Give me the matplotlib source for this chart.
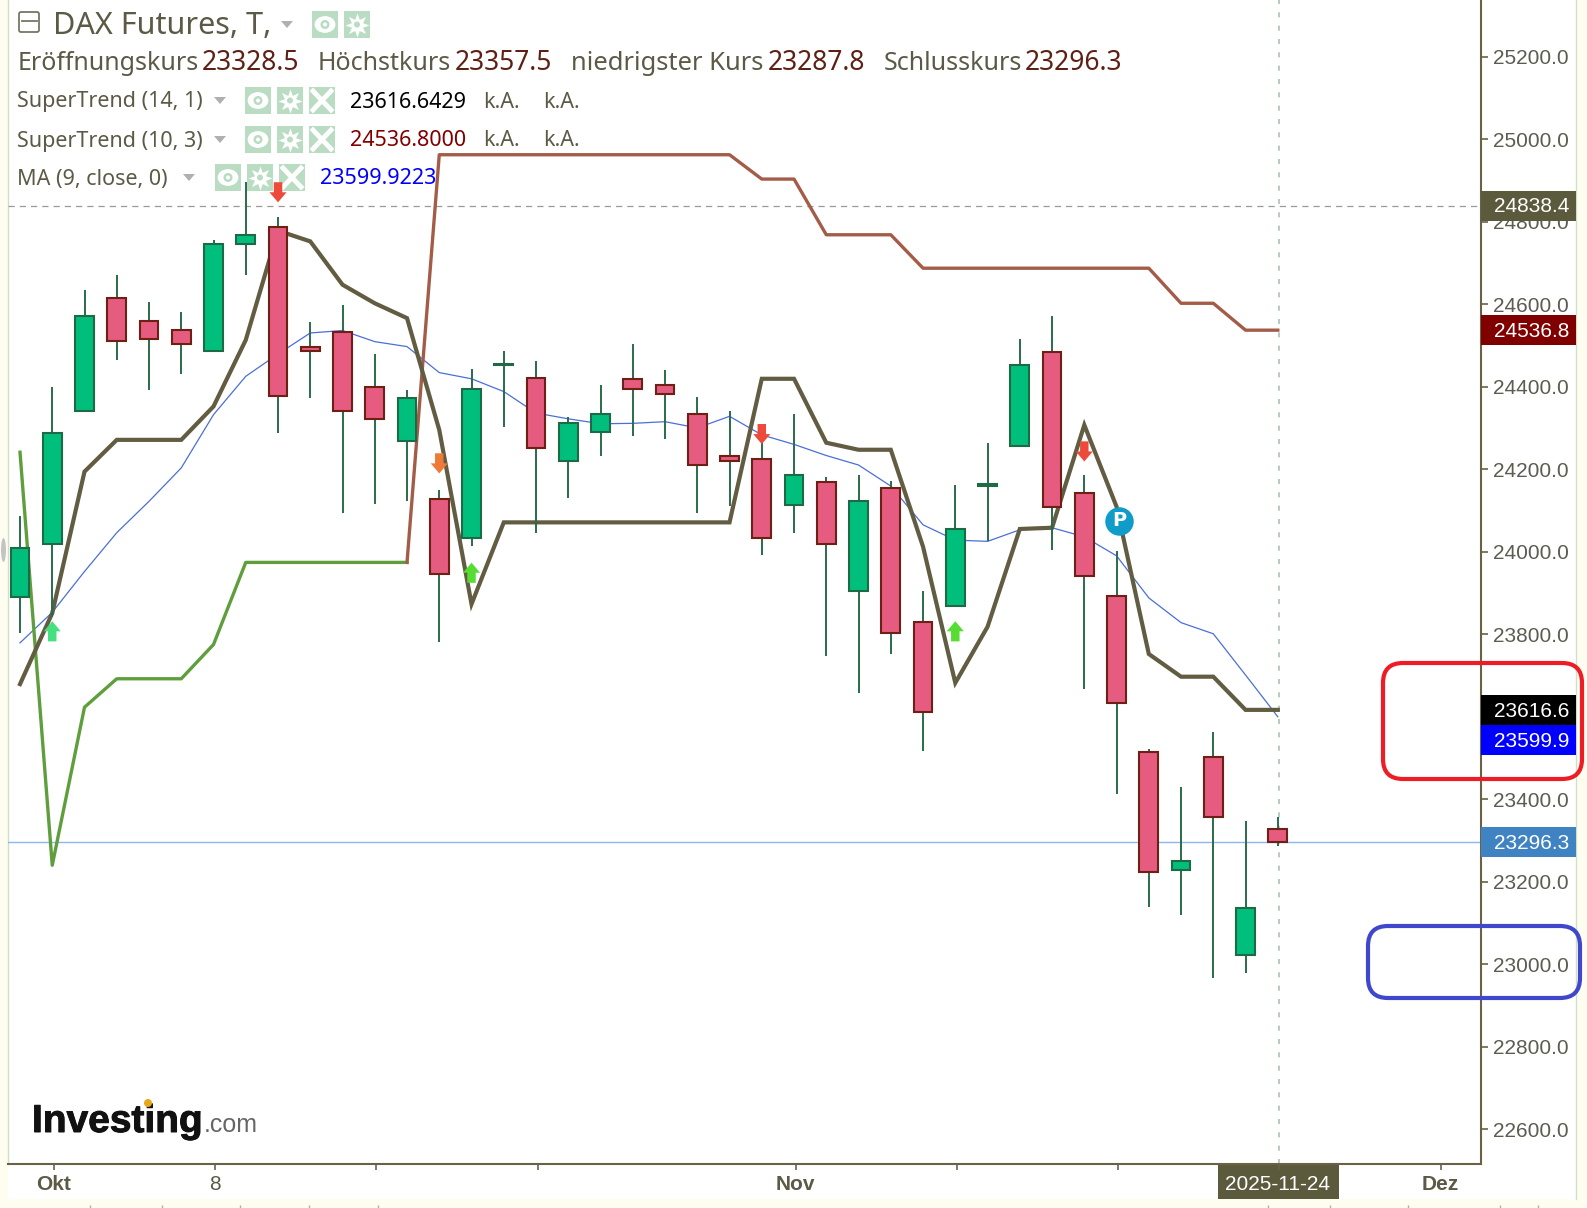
import matplotlib
matplotlib.use('Agg')
import numpy as np
import matplotlib.pyplot as plt
import matplotlib.patheffects as pe
from matplotlib.patches import Rectangle, FancyBboxPatch, Ellipse, Circle
from matplotlib.path import Path
from matplotlib.transforms import blended_transform_factory

# Candles, one value per trading day
opens = [23890, 24018, 24341, 24614, 24560, 24538, 24486, 24746, 24788, 24496,
         24533, 24400, 24268, 24128, 24032, 24452, 24420, 24219, 24290, 24418,
         24403, 24334, 24231, 24224, 24113, 24170, 23905, 24155, 23829, 23868,
         24158, 24256, 24484, 24143, 23893, 23515, 23228, 23503, 23022, 23328.5]
closes = [24010, 24288, 24570, 24511, 24516, 24503, 24746, 24768, 24378, 24486,
          24341, 24322, 24373, 23947, 24395, 24454, 24251, 24312, 24334, 24395,
          24383, 24209, 24219, 24032, 24187, 24018, 24123, 23804, 23611, 24055,
          24165, 24452, 24109, 23942, 23633, 23223, 23250, 23356, 23137, 23296.3]
highs = [24086, 24398, 24633, 24670, 24606, 24582, 24756, 24896, 24810, 24557,
         24597, 24479, 24393, 24150, 24442, 24486, 24462, 24327, 24405, 24503,
         24440, 24376, 24341, 24307, 24334, 24180, 24185, 24172, 23905, 24162,
         24263, 24516, 24572, 24185, 24001, 23522, 23429, 23562, 23348, 23357.5]
lows = [23804, 23841, 24341, 24464, 24391, 24430, 24486, 24670, 24288, 24373,
        24094, 24116, 24123, 23780, 24013, 24302, 24045, 24131, 24231, 24280,
        24273, 24094, 24111, 23991, 24045, 23748, 23657, 23753, 23517, 23866,
        24025, 24256, 24003, 23667, 23412, 23140, 23120, 22966, 22980, 23287.8]

# SuperTrend (14, 1)
st_14 = [23679, 23851, 24194, 24271, 24271, 24271, 24352, 24513, 24778, 24752,
         24647, 24602, 24566, 24295, 23873, 24071, 24071, 24071, 24071, 24071,
         24071, 24071, 24071, 24419, 24419, 24264, 24247, 24247, 24012, 23682,
         23818, 24055, 24058, 24307, 24109, 23752, 23697, 23697, 23616.6, 23616.6]
# SuperTrend (10, 3): support up to the flip, resistance after it
st_10 = [24241, 23240, 23623, 23692, 23692, 23692, 23775, 23974, 23974, 23974,
         23974, 23974, 23974, 24962, 24962, 24962, 24962, 24962, 24962, 24962,
         24962, 24962, 24962, 24903, 24903, 24768, 24768, 24768, 24687, 24687,
         24687, 24687, 24687, 24687, 24687, 24687, 24602, 24602, 24536.8, 24536.8]
st_10_flip = 12
# MA (9, close, 0)
ma_9 = [23779, 23853, 23952, 24046, 24122, 24203, 24332, 24425, 24479, 24530,
        24536, 24509, 24497, 24434, 24419, 24388, 24336, 24322, 24310, 24311,
        24315, 24300, 24328, 24283, 24260, 24233, 24210, 24159, 24065, 24028,
        24025, 24053, 24058, 24036, 23990, 23888, 23828, 23801, 23701, 23599.9]

sell_days = [8, 13, 23, 33]
sell_vals = [24871, 24214, 24285, 24243]
buy_days = [1, 14, 29]
buy_vals = [23807, 23949, 23807]
p_day = 34.08
p_val = 24075

y_ticks = list(range(22600, 25400, 200))
y_hidden = [23600]
x_ticks = [1, 6, 11, 16, 24, 29, 34, 39, 44]
x_labels = ['Okt', '8', '', '', 'Nov', '', '', '', 'Dez']

price_tags = [(24838.4, '#5c5a3c', 0), (24536.8, '#800000', 0), (23616.6, '#000000', 0),
              (23599.9, '#0000ff', -56), (23296.3, '#3f83c2', 0)]

OLIVE = '#5c5a46'
W, H = 1587, 1208

fig = plt.figure(figsize=(W / 100, H / 100), dpi=100, facecolor='#fffdf0')

# white panel behind plot and price scale
back = fig.add_axes([0, 0, 1, 1])
back.set_xlim(0, W)
back.set_ylim(H, 0)
back.axis('off')
back.add_patch(Rectangle((8, 0), 1568, 1199, fc='white', ec='none'))
back.plot([1576, 1576], [0, 1199], color='#cfe0c8', lw=1)
back.plot([8, 8], [0, 1164], color='#cfe0c8', lw=1)
back.add_patch(Ellipse((3.5, 550), 5, 24, fc='#c4c4c4', ec='none'))
back.vlines([90, 162, 240, 309, 378, 1268, 1330, 1408, 1500, 1538], 1205, 1208, color='#b0b0a0', lw=1)

# legend text, icons and logo sit under the chart marks
top = fig.add_axes([0, 0, 1, 1], facecolor='none')
top.set_xlim(0, W)
top.set_ylim(H, 0)
top.axis('off')

ax = fig.add_axes([8 / W, 1 - 1164 / H, (1481 - 8) / W, 1164 / H], facecolor='none')
ax.set_xlim(-0.372, 45.30)
ax.set_ylim(22516, 25337)
ax.spines['top'].set_visible(False)
ax.spines['left'].set_visible(False)
ax.spines['right'].set_color('#6b6245')
ax.spines['bottom'].set_color('#6b6245')
ax.spines['right'].set_linewidth(1.5)
ax.spines['bottom'].set_linewidth(1.5)
ax.yaxis.tick_right()
ax.set_yticks(y_ticks)
ax.set_yticklabels(['' if v in y_hidden else '%.1f' % v for v in y_ticks], fontfamily='Liberation Sans',
                   fontsize=15, color='#5c5c50')
# the time scale sits a hair to the right of the candle centres
ax.set_xticks([t + 0.05 for t in x_ticks])
ax.set_xticklabels(x_labels, fontfamily='Liberation Sans', fontsize=15, fontweight='bold', color=OLIVE)
ax.get_xticklabels()[1].set_fontweight('normal')
ax.tick_params(axis='y', length=5, width=1.2, color='#6b6245', pad=4)
ax.tick_params(axis='x', length=4, width=1.2, color='#6b6245', pad=4)
ax.xaxis.get_major_ticks()[7].tick1line.set_color('#dddddd')

# reference lines
ax.axhline(24838.4, color='#9a9a9a', lw=0.9, ls=(0, (5, 4)), zorder=1)
ax.axhline(23296.3, color='#8ab8ee', lw=1, zorder=1)
ax.axvline(39.05, color='#a8c4ac', lw=1.2, ls=(0, (3, 5)), zorder=1)

# indicators go behind the candles
days = np.arange(len(opens))
ax.plot(days, ma_9, color='#4a6fd8', lw=0.9, zorder=2)
ax.plot(days[:st_10_flip + 1], st_10[:st_10_flip + 1], color='#5f9e3c', lw=2.4, zorder=2)
ax.plot(days[st_10_flip:], st_10[st_10_flip:], color='#a35c48', lw=2.4, zorder=2)
ax.plot(days, st_14, color='#625c42', lw=3, zorder=2.1, solid_joinstyle='miter')

# candles
ax.vlines(days, lows, highs, color='#2a6b4a', lw=1.4, zorder=3)
for i in days:
    up = closes[i] >= opens[i]
    body = abs(closes[i] - opens[i])
    ax.bar(i, body, width=0.58, bottom=min(opens[i], closes[i]),
           color='#00bf7d' if up else '#e65c80',
           edgecolor='#1e6a46' if up else '#6e2014', linewidth=1.5, zorder=4)

# signal arrows
down = Path([(-0.42, 1), (0.42, 1), (0.42, 0), (0.85, 0), (0, -1), (-0.85, 0), (-0.42, 0), (-0.42, 1)])
up_arrow = Path([(-0.42, -1), (0.42, -1), (0.42, 0), (0.85, 0), (0, 1), (-0.85, 0), (-0.42, 0), (-0.42, -1)])
ax.scatter(sell_days, sell_vals, marker=down, s=210, c=['#ee4a3c', '#ee7a38', '#ee4a3c', '#ee4a3c'], linewidths=0, zorder=6)
ax.scatter(buy_days, buy_vals, marker=up_arrow, s=210, c=['#46e080', '#55dd33', '#55dd33'], linewidths=0, zorder=6)
ax.scatter([p_day], [p_val], s=420, c='#0f9cc8', linewidths=0, zorder=7)
ax.text(p_day, p_val, 'P', color='white', fontsize=14, fontweight='bold', ha='center', va='center',
        fontfamily='DejaVu Sans', zorder=8)

# price tags on the scale
tr = blended_transform_factory(ax.transAxes, ax.transData)
for val, col, off in price_tags:
    ax.add_patch(Rectangle((1.0, val + off - 36), 95 / 1473, 72, transform=tr, fc=col, ec='none',
                           clip_on=False, zorder=10))
    ax.text(1 + 88 / 1473, val + off - 3, '%.1f' % val, transform=tr, color='white', ha='right', va='center',
            fontfamily='Liberation Sans', fontsize=15, clip_on=False, zorder=11)


def label(x, y, s, color=OLIVE, size=15.5):
    top.text(x, y, s, color=color, fontsize=size, va='center', ha='left', fontfamily='Noto Sans')


def caret(x, y):
    top.fill([x - 6, x + 6, x], [y - 3, y - 3, y + 4], color='#b0b0b0', lw=0)


def icon_box(x, y, w, h):
    top.add_patch(Rectangle((x, y), w, h, fc='#b9dcc2', ec='none'))


def eye(x, y, w=26, h=27):
    icon_box(x, y, w, h)
    top.add_patch(Ellipse((x + w / 2, y + h / 2), w * 0.8, h * 0.62, fc='white', ec='none'))
    top.add_patch(Circle((x + w / 2, y + h / 2), 4.5, fc='#b9dcc2', ec='none'))
    top.add_patch(Circle((x + w / 2, y + h / 2), 2, fc='white', ec='none'))


def gear(x, y, w=26, h=27):
    icon_box(x, y, w, h)
    top.scatter([x + w / 2], [y + h / 2], marker=(8, 1, 0), s=300, c='white', linewidths=0)
    top.add_patch(Circle((x + w / 2, y + h / 2), 3, fc='#b9dcc2', ec='none'))


def cross(x, y, w=26, h=27):
    icon_box(x, y, w, h)
    top.plot([x + 4, x + w - 4], [y + 4, y + h - 4], color='white', lw=3.5)
    top.plot([x + 4, x + w - 4], [y + h - 4, y + 4], color='white', lw=3.5)


# collapse box and title
top.add_patch(FancyBboxPatch((19, 12), 20, 20, boxstyle='round,pad=0,rounding_size=2', fc='none', ec='#777766', lw=1.3))
top.plot([22, 37], [21, 21], color='#777766', lw=1.3)
label(53, 26, 'DAX Futures, T,', size=22)
caret(287, 24)
eye(312, 11)
gear(344, 11)

# OHLC row
DARK = '#5e2014'
for x, s, c, fs in [(18, 'Eröffnungskurs', OLIVE, 18), (202, '23328.5', DARK, 19), (318, 'Höchstkurs', OLIVE, 18),
                    (455, '23357.5', DARK, 19), (571, 'niedrigster Kurs', OLIVE, 18.4), (768, '23287.8', DARK, 19),
                    (884, 'Schlusskurs', OLIVE, 18), (1025, '23296.3', DARK, 19)]:
    label(x, 63, s, c, fs)

# indicator rows
for y, s, val, col, cx, bx in [(100, 'SuperTrend (14, 1)', '23616.6429', '#000000', 220, 245),
                               (139, 'SuperTrend (10, 3)', '24536.8000', '#800000', 220, 245),
                               (177, 'MA (9, close, 0)', '23599.9223', '#0000ff', 189, 215)]:
    label(17, y + 2, s)
    caret(cx, y)
    eye(bx, y - 13)
    gear(bx + 32, y - 13)
    cross(bx + 64, y - 13)
    label(bx + 105, y + 2, val, col)
    if y < 170:
        label(483, y + 2, 'k.A.')
        label(543, y + 2, 'k.A.')

# date tag on the time scale
top.add_patch(Rectangle((1218, 1165), 121, 34, fc='#5c5a3c', ec='none'))
ax.text(1278, 1185, '2025-11-24', color='white', fontsize=15, ha='center', va='center', fontfamily='Liberation Sans',
        transform=top.transData, clip_on=False, zorder=11)

# logo
logo = top.text(32, 1132, 'Investing', color='#111111', fontsize=28, fontweight='bold', va='baseline', ha='left',
                fontfamily='Liberation Sans')
logo.set_path_effects([pe.withStroke(linewidth=0.7, foreground='#111111')])
top.text(204, 1132, '.com', color='#666666', fontsize=18, va='baseline', ha='left', fontfamily='Liberation Sans')
top.add_patch(Circle((148, 1103), 4, fc='#e8a818', ec='none', zorder=5))

# hand drawn marks
ax.add_patch(FancyBboxPatch((1383, 663), 199, 116, boxstyle='round,pad=0,rounding_size=20', fc='none', ec='#ee1c25', lw=3,
                            transform=top.transData, clip_on=False, zorder=12))
ax.add_patch(FancyBboxPatch((1368, 926), 212, 72, boxstyle='round,pad=0,rounding_size=20', fc='none', ec='#3f48cc', lw=3,
                            transform=top.transData, clip_on=False, zorder=12))

fig.savefig('out.png', dpi=100, facecolor=fig.get_facecolor())
